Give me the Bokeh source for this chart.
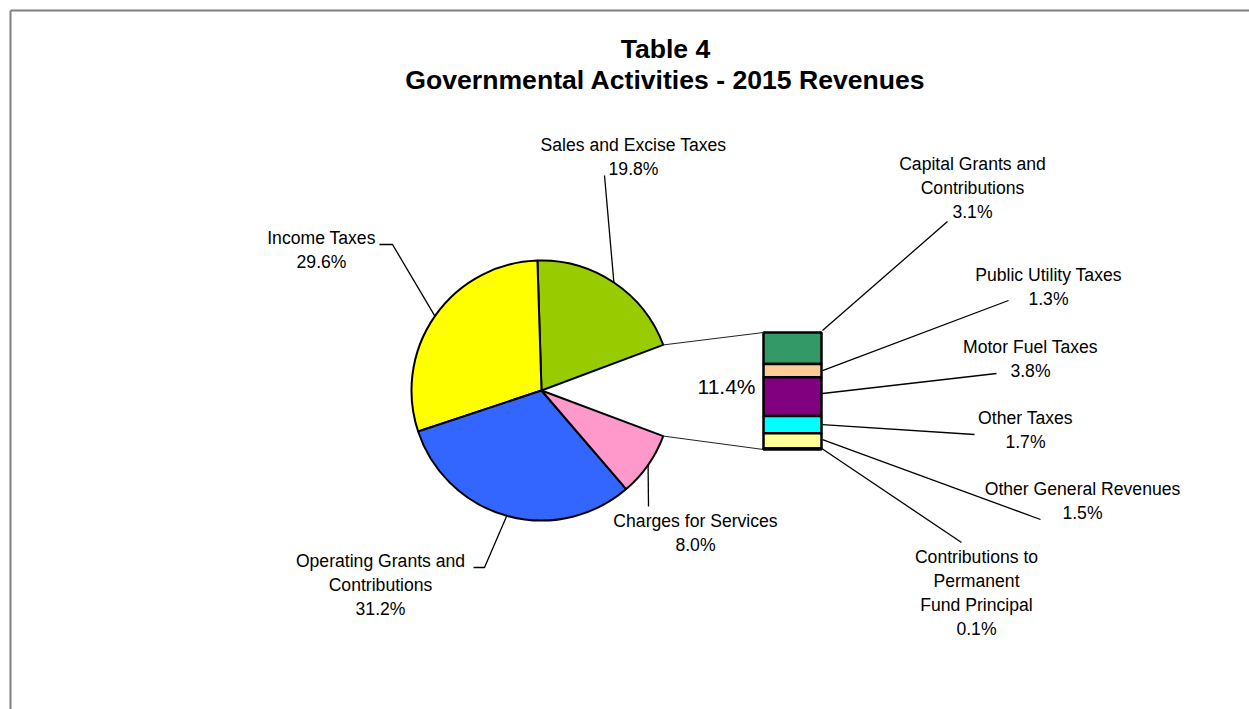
import numpy as np
from bokeh.plotting import figure
from bokeh.models import Range1d
from bokeh.core.properties import value
from bokeh.embed import file_html
from bokeh.resources import INLINE

# ---------------- data ----------------
title_lines = ["Table 4", "Governmental Activities - 2015 Revenues"]

main_categories = ["Sales and Excise Taxes", "Income Taxes",
                   "Operating Grants and\nContributions", "Charges for Services"]
main_values = [19.8, 29.6, 31.2, 8.0]
main_colors = ["#99CC00", "#FFFF00", "#3366FF", "#FF99CC"]

other_value = 11.4

sub_categories = ["Capital Grants and\nContributions", "Public Utility Taxes",
                  "Motor Fuel Taxes", "Other Taxes", "Other General Revenues",
                  "Contributions to\nPermanent\nFund Principal"]
sub_values = [3.1, 1.3, 3.8, 1.7, 1.5, 0.1]
sub_colors = ["#339966", "#FFCC99", "#800080", "#00FFFF", "#FFFF99", "#000080"]

# ---------------- layout (screen pixels) ----------------
W, H = 1249, 709
def X(sx):
    return sx
def Y(sy):
    return H - sy

LABEL_FONT = value("Liberation Sans")
LABEL_SIZE = "17.6px"
LINE_H = 24.3

pie_cx, pie_cy, pie_r = 541, 390, 130
bar_x0, bar_x1, bar_top, bar_bot = 763, 821, 332, 449

main_label_pos = [(633, 144), (321, 237), (380, 560), (695, 520)]
main_leader_pts = [[(604, 175)], [(392, 244), (379, 244)],
                   [(484, 567), (473, 567)], [(648, 506)]]

sub_label_pos = [(972, 163), (1048, 274), (1030, 346), (1025, 417), (1082, 488), (976, 556)]
sub_leader_end = [(947, 221), (1008, 300), (996, 373), (974, 434), (1040, 519), (961, 542)]
sub_leader_frac = [-0.06, 0.5, 0.42, 0.5, 0.42, 0.5]

p = figure(width=W, height=H, x_range=Range1d(0, W), y_range=Range1d(0, H),
           output_backend="svg", toolbar_location=None, min_border=0)
p.axis.visible = False
p.grid.visible = False
p.outline_line_color = None
p.background_fill_color = "white"
p.border_fill_color = "white"

# frame lines (top and left)
p.line([X(10), X(1249)], [Y(10), Y(10)], line_color="#808080", line_width=2)
p.line([X(10), X(10)], [Y(10), Y(709)], line_color="#808080", line_width=2)

# ---------------- pie ----------------
deg = np.pi / 180.0
start0 = other_value / 2 * 3.6
starts, ends = [], []
a = start0
for v in main_values:
    starts.append(a * deg)
    a += v * 3.6
    ends.append(a * deg)

p.wedge(x=[X(pie_cx)] * len(main_values), y=[Y(pie_cy)] * len(main_values),
        radius=pie_r, start_angle=starts, end_angle=ends,
        fill_color=main_colors, line_color="black", line_width=2)

# main labels and leaders
for i, (cat, v) in enumerate(zip(main_categories, main_values)):
    mid = (starts[i] + ends[i]) / 2
    sx = pie_cx + pie_r * np.cos(mid)
    sy = pie_cy - pie_r * np.sin(mid)
    pts = [(sx, sy)] + main_leader_pts[i]
    p.line([X(q[0]) for q in pts], [Y(q[1]) for q in pts], line_color="black", line_width=1.3)
    lines = cat.split("\n") + [f"{v:.1f}%"]
    lx, ly = main_label_pos[i]
    p.text(x=[X(lx)] * len(lines), y=[Y(ly + k * LINE_H) for k in range(len(lines))],
           text=lines, text_align="center", text_baseline="middle",
           text_font=LABEL_FONT, text_font_size=LABEL_SIZE, text_color="black")

# ---------------- bar of pie ----------------
scale = (bar_bot - bar_top) / sum(sub_values)
tops, bots = [], []
cur = bar_top
for v in sub_values:
    tops.append(cur)
    cur += v * scale
    bots.append(cur)

p.quad(left=[X(bar_x0)] * len(sub_values), right=[X(bar_x1)] * len(sub_values),
       top=[Y(t) for t in tops], bottom=[Y(b) for b in bots],
       fill_color=sub_colors, line_color="black", line_width=2.5)

# connector lines from pie gap to bar
e_up = (pie_cx + pie_r * np.cos(start0 * deg), pie_cy - pie_r * np.sin(start0 * deg))
e_dn = (pie_cx + pie_r * np.cos(-start0 * deg), pie_cy - pie_r * np.sin(-start0 * deg))
p.line([X(e_up[0]), X(bar_x0)], [Y(e_up[1]), Y(bar_top)], line_color="#222222", line_width=1)
p.line([X(e_dn[0]), X(bar_x0)], [Y(e_dn[1]), Y(bar_bot)], line_color="#222222", line_width=1)

p.text(x=[X(726)], y=[Y(386)], text=[f"{other_value:.1f}%"], text_align="center",
       text_baseline="middle", text_font=value("Liberation Sans"), text_font_size="21px",
       text_color="black")

# sub labels and leaders
for i, (cat, v) in enumerate(zip(sub_categories, sub_values)):
    ay = tops[i] + (bots[i] - tops[i]) * sub_leader_frac[i]
    ex, ey = sub_leader_end[i]
    p.line([X(bar_x1 + 1), X(ex)], [Y(ay), Y(ey)], line_color="black", line_width=1.3)
    lines = cat.split("\n") + [f"{v:.1f}%"]
    lx, ly = sub_label_pos[i]
    p.text(x=[X(lx)] * len(lines), y=[Y(ly + k * LINE_H) for k in range(len(lines))],
           text=lines, text_align="center", text_baseline="middle",
           text_font=LABEL_FONT, text_font_size=LABEL_SIZE, text_color="black")

# ---------------- title ----------------
p.text(x=[X(665), X(665)], y=[Y(48), Y(79)], text=title_lines, text_align="center",
       text_baseline="middle", text_font=value("Liberation Sans"), text_font_size="26.6px",
       text_font_style="bold", text_color="black")

open("out.html", "w").write(file_html(p, INLINE))
